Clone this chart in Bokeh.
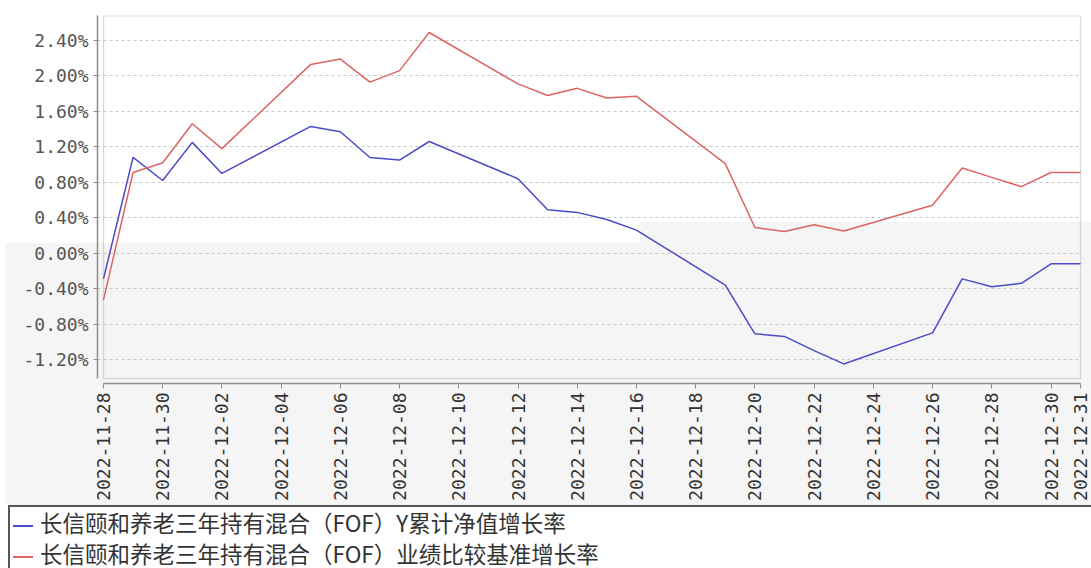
import math
import pandas as pd
from bokeh.plotting import figure
from bokeh.layouts import column
from bokeh.models import (ColumnDataSource, FixedTicker, PrintfTickFormatter,
                          DatetimeTickFormatter, Range1d, BoxAnnotation, Div)
from bokeh.embed import file_html
from bokeh.resources import INLINE

# ---------------- data ----------------
dates = ["2022-11-28", "2022-11-29", "2022-11-30", "2022-12-01", "2022-12-02",
         "2022-12-05", "2022-12-06", "2022-12-07", "2022-12-08", "2022-12-09",
         "2022-12-12", "2022-12-13", "2022-12-14", "2022-12-15", "2022-12-16",
         "2022-12-19", "2022-12-20", "2022-12-21", "2022-12-22", "2022-12-23",
         "2022-12-26", "2022-12-27", "2022-12-28", "2022-12-29", "2022-12-30",
         "2022-12-31"]

fund_growth = [-0.29, 1.08, 0.82, 1.25, 0.90,
               1.43, 1.37, 1.08, 1.05, 1.26,
               0.84, 0.49, 0.46, 0.38, 0.26,
               -0.36, -0.91, -0.94, -1.10, -1.25,
               -0.90, -0.29, -0.38, -0.34, -0.12,
               -0.12]

bench_growth = [-0.53, 0.91, 1.02, 1.46, 1.18,
                2.13, 2.19, 1.93, 2.06, 2.49,
                1.91, 1.78, 1.86, 1.75, 1.77,
                1.01, 0.29, 0.245, 0.32, 0.25,
                0.54, 0.96, 0.855, 0.75, 0.91,
                0.91]

series_names = ["长信颐和养老三年持有混合（FOF）Y累计净值增长率",
                "长信颐和养老三年持有混合（FOF）业绩比较基准增长率"]

y_ticks = [-1.2, -0.8, -0.4, 0.0, 0.4, 0.8, 1.2, 1.6, 2.0, 2.4]

x_tick_labels = ["2022-11-28", "2022-11-30", "2022-12-02", "2022-12-04", "2022-12-06",
                 "2022-12-08", "2022-12-10", "2022-12-12", "2022-12-14", "2022-12-16",
                 "2022-12-18", "2022-12-20", "2022-12-22", "2022-12-24", "2022-12-26",
                 "2022-12-28", "2022-12-30", "2022-12-31"]

# ---------------- styling ----------------
BLUE = "#4b4bc8"
RED = "#dc6464"
series_colors = [BLUE, RED]
FRAME = "#8c8c8c"
GRAY_BG = "#f5f5f5"
W = 1091


def ms(d):
    return pd.Timestamp(d).value // 10**6


DAY = 86400000
t0 = ms(x_tick_labels[0])
t1 = ms(x_tick_labels[-1])
y_lo, y_hi = -1.414, 2.68

src = ColumnDataSource(dict(date=pd.to_datetime(dates), fund=fund_growth, bench=bench_growth))

# ---------------- main chart ----------------
p = figure(width=W, height=505, x_axis_type="datetime",
           output_backend="svg", toolbar_location=None,
           x_range=Range1d(t0 - 0.201 * DAY, t1 + 0.03 * DAY),
           y_range=Range1d(-1.471, 2.682),
           min_border_left=97, min_border_right=10,
           min_border_top=15, min_border_bottom=122)

p.outline_line_color = None
p.border_fill_color = None
p.background_fill_color = None
p.styles = {
    "background-color": "white",
    "background-image": f"linear-gradient({GRAY_BG}, {GRAY_BG}), linear-gradient({GRAY_BG}, {GRAY_BG})",
    "background-position": "6px 243px, 640px 222px",
    "background-size": "100% 100%, 100% 100%",
    "background-repeat": "no-repeat",
}

p.xgrid.visible = False
p.ygrid.grid_line_color = "#c8c8c8"
p.ygrid.grid_line_dash = "3 3"
p.ygrid.grid_line_width = 1

# visible plot box (inset from the axis lines)
p.add_layout(BoxAnnotation(left=t0, right=t1, bottom=y_lo, top=y_hi,
                           fill_color=None, fill_alpha=0,
                           line_color=FRAME, line_width=1.5))

p.line("date", "fund", source=src, line_color=BLUE, line_width=1.5)
p.line("date", "bench", source=src, line_color=RED, line_width=1.5)

# x axis
p.xaxis.ticker = FixedTicker(ticks=[ms(d) for d in x_tick_labels])
fmt = "%Y-%m-%d"
p.xaxis.formatter = DatetimeTickFormatter(microseconds=fmt, milliseconds=fmt, seconds=fmt,
                                          minsec=fmt, minutes=fmt, hourmin=fmt, hours=fmt,
                                          days=fmt, months=fmt, years=fmt)
p.xaxis.major_label_orientation = math.pi / 2
p.xaxis.bounds = (t0, t1)
p.xaxis.axis_line_color = FRAME
p.xaxis.axis_line_width = 1.5
p.xaxis.major_tick_line_color = FRAME
p.xaxis.major_tick_out = 5
p.xaxis.major_tick_in = 0
p.xaxis.minor_tick_line_color = None
p.xaxis.major_label_standoff = 4
p.xaxis.major_label_text_font = "DejaVu Sans Mono"
p.xaxis.major_label_text_font_size = "18px"
p.xaxis.major_label_text_color = "#333333"

# y axis
p.yaxis.ticker = FixedTicker(ticks=y_ticks)
p.yaxis.formatter = PrintfTickFormatter(format="%.2f%%")
p.yaxis.bounds = (y_lo, y_hi)
p.yaxis.axis_line_color = FRAME
p.yaxis.axis_line_width = 1.5
p.yaxis.major_tick_line_color = FRAME
p.yaxis.major_tick_out = 4
p.yaxis.major_tick_in = 0
p.yaxis.minor_tick_line_color = None
p.yaxis.major_label_standoff = 5
p.yaxis.major_label_text_font = "DejaVu Sans Mono"
p.yaxis.major_label_text_font_size = "18px"
p.yaxis.major_label_text_color = "#555555"

# ---------------- legend box (below the chart) ----------------
rows = "".join(
    f'<div style="height:31px;line-height:31px;white-space:nowrap;">'
    f'<span style="display:inline-block;width:20px;height:0;border-top:2px solid {c};'
    f'vertical-align:middle;margin:0 7px 0 3px;"></span>{name}</div>'
    for name, c in zip(series_names, series_colors))
legend_html = (
    '<div style="margin:0 0 0 8px;width:1100px;height:72px;box-sizing:border-box;'
    'border:2px solid #555555;border-right:none;background:#ffffff;'
    "font-family:'Noto Sans CJK SC',sans-serif;font-size:22.5px;color:#333333;\">"
    + rows + '</div>')
legend_div = Div(text=legend_html, width=W, height=63, margin=0,
                 styles={"overflow": "hidden", "background-color": "white"})

page = column(p, legend_div, spacing=0)

with open("out.html", "w", encoding="utf-8") as f:
    f.write(file_html(page, INLINE))
